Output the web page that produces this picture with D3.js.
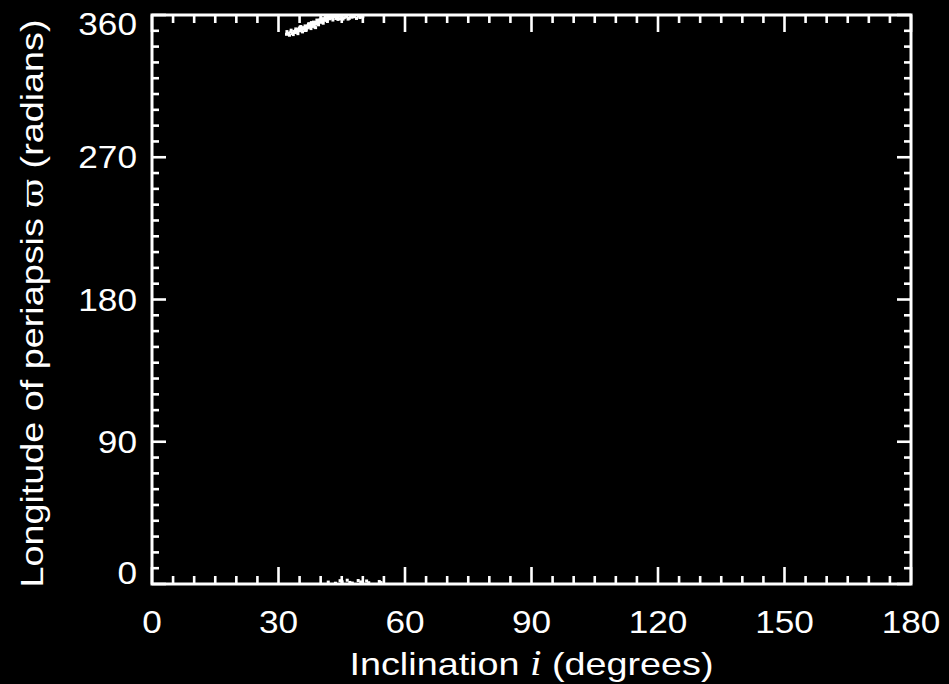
<!DOCTYPE html>
<html>
<head>
<meta charset="utf-8">
<script src="https://cdn.jsdelivr.net/npm/d3@7/dist/d3.min.js"></script>
<style>
  html, body { margin: 0; padding: 0; background: #000; }
  svg { display: block; }
</style>
</head>
<body>
<script>
// Orbital elements of the surviving particles: inclination i (deg) and
// longitude of periapsis varpi (deg), wrapped into [0, 360).
const inclination = [
  32.4, 32.9, 33.3, 33.6, 34.0, 34.3, 34.7, 35.0, 35.2, 35.6, 35.9, 36.2,
  36.5, 36.8, 37.0, 37.3, 37.6, 37.9, 38.1, 38.4, 38.7, 38.9, 39.2, 39.4,
  39.7, 39.9, 40.2, 40.5, 40.7, 41.0, 41.3, 41.5, 41.8, 42.1, 42.4, 42.8,
  43.2, 43.6, 44.0, 44.5, 45.0, 45.6, 46.2, 46.8, 47.4, 49.3, 50.0,
  34.5, 36.0, 37.5, 39.0, 40.0, 41.5, 38.2, 35.4, 33.8, 42.5, 40.9, 39.6,
  36.9, 44.3, 31.9, 38.0, 41.9, 43.0,
  32.0, 32.6, 33.0, 33.5, 34.1, 34.6, 35.1, 35.7, 36.3, 36.6, 37.2, 37.7,
  38.3, 38.6, 39.1, 39.5, 40.1, 40.6, 41.1, 41.6, 42.2, 42.9, 43.4, 44.1,
  44.8, 45.3, 46.0, 46.5, 47.1, 48.0, 48.5, 49.8, 48.9,
  35.3, 36.4, 37.8, 38.8, 40.4, 34.9, 37.1, 39.8,
  41.8, 44.6, 45.1, 46.3, 46.9, 48.9, 49.5, 50.9, 51.4, 53.9, 54.3, 47.5, 43.5
];
const periapsis = [
  348.5, 349.2, 348.3, 349.6, 350.1, 349.0, 350.8, 350.0, 351.4, 350.6, 352.0, 351.2,
  352.6, 351.8, 353.3, 352.2, 354.0, 353.0, 354.6, 353.6, 355.3, 354.2, 356.0, 354.9,
  356.5, 355.4, 357.1, 356.0, 357.7, 356.6, 358.2, 357.0, 358.8, 357.6, 359.2, 358.0,
  359.0, 357.8, 358.6, 357.6, 358.9, 358.3, 358.8, 357.9, 358.6, 358.4, 359.0,
  349.6, 351.5, 353.2, 355.0, 356.3, 357.8, 353.9, 350.9, 348.9, 358.4, 357.3, 355.8,
  352.9, 359.2, 347.8, 352.8, 358.5, 359.4,
  349.5, 347.2, 350.4, 347.6, 351.2, 348.2, 352.3, 349.3, 353.1, 350.4, 354.5, 351.4,
  355.5, 352.4, 356.8, 353.8, 357.9, 354.8, 358.7, 355.9, 359.6, 356.8, 359.5, 357.2,
  359.4, 357.4, 359.3, 357.4, 359.2, 358.9, 357.8, 358.7, 359.3,
  352.7, 350.2, 355.2, 352.0, 355.5, 351.6, 354.1, 357.0,
  1.2, 2.1, 1.4, 2.4, 1.0, 2.2, 1.3, 1.9, 0.8, 1.6, 0.9, 0.6, 0.5
];

const xMajorTicks = [0, 30, 60, 90, 120, 150, 180];
const yMajorTicks = [0, 90, 180, 270, 360];
const xMinorStep = 5;
const yMinorStep = 10;

const W = 949, H = 684;
const plotL = 152, plotR = 911, plotT = 15, plotB = 584;

const svg = d3.select("body").append("svg")
  .attr("width", W).attr("height", H)
  .style("background", "#000");

const x = d3.scaleLinear().domain([0, 180]).range([plotL, plotR]);
const y = d3.scaleLinear().domain([0, 360]).range([plotB, plotT]);

const white = "#ffffff";
const font = "'Liberation Sans', Arial, Helvetica, sans-serif";
const fontSize = 32;
const digitStretch = 1.1;   // wide plotting font
const titleStretch = 1.18;

// Points
const pts = inclination.map((v, k) => ({ i: v, w: periapsis[k] }));
svg.append("g").selectAll("rect").data(pts).join("rect")
  .attr("x", d => x(d.i) - 1.5)
  .attr("y", d => y(d.w) - 1.5)
  .attr("width", 3).attr("height", 3)
  .attr("fill", white);

// Tick marks on all four sides, pointing inward
const xMinor = d3.range(0, 180 + 0.001, xMinorStep).filter(v => !xMajorTicks.includes(v));
const yMinor = d3.range(0, 360 + 0.001, yMinorStep).filter(v => !yMajorTicks.includes(v));
const tickG = svg.append("g").attr("stroke", white).attr("stroke-width", 2.6);
const xMajLen = 17, xMinLen = 8, yMajLen = 14, yMinLen = 7;

function xTicks(vals, len) {
  tickG.append("g").selectAll("line").data(vals).join("line")
    .attr("x1", d => x(d)).attr("x2", d => x(d))
    .attr("y1", plotB).attr("y2", plotB - len);
  tickG.append("g").selectAll("line").data(vals).join("line")
    .attr("x1", d => x(d)).attr("x2", d => x(d))
    .attr("y1", plotT).attr("y2", plotT + len);
}
function yTicks(vals, len) {
  tickG.append("g").selectAll("line").data(vals).join("line")
    .attr("y1", d => y(d)).attr("y2", d => y(d))
    .attr("x1", plotL).attr("x2", plotL + len);
  tickG.append("g").selectAll("line").data(vals).join("line")
    .attr("y1", d => y(d)).attr("y2", d => y(d))
    .attr("x1", plotR).attr("x2", plotR - len);
}
xTicks(xMajorTicks, xMajLen);
xTicks(xMinor, xMinLen);
yTicks(yMajorTicks, yMajLen);
yTicks(yMinor, yMinLen);

// Frame
svg.append("rect")
  .attr("x", plotL).attr("y", plotT)
  .attr("width", plotR - plotL).attr("height", plotB - plotT)
  .attr("fill", "none").attr("stroke", white).attr("stroke-width", 3);

function styled(sel) {
  return sel.attr("fill", white).attr("font-family", font).attr("font-size", fontSize);
}

// Tick labels
svg.append("g").selectAll("g").data(xMajorTicks).join("g")
  .attr("transform", d => `translate(${x(d)}, 633) scale(${digitStretch}, 1)`)
  .append("text")
  .attr("text-anchor", "middle")
  .call(styled)
  .text(d => d);

// y labels are kept inside the plot's vertical extent
const half = 11;
svg.append("g").selectAll("g").data(yMajorTicks).join("g")
  .attr("transform", d => `translate(137, ${Math.min(Math.max(y(d), plotT + 9), plotB - 11) + half}) scale(${digitStretch}, 1)`)
  .append("text")
  .attr("text-anchor", "end")
  .call(styled)
  .text(d => d);

// Axis titles
const xt = svg.append("g")
  .attr("transform", `translate(${(plotL + plotR) / 2}, 675) scale(${titleStretch}, 1)`)
  .append("text")
  .attr("text-anchor", "middle")
  .call(styled);
xt.append("tspan").text("Inclination ");
xt.append("tspan").attr("font-family", "'Liberation Serif', 'Times New Roman', serif")
  .attr("font-style", "italic").attr("font-size", 35).text("i");
xt.append("tspan").text(" (degrees)");

const yt = svg.append("g")
  .attr("transform", `translate(43, ${(plotT + plotB) / 2 + 4}) rotate(-90) scale(${titleStretch}, 1)`)
  .append("text")
  .attr("text-anchor", "middle")
  .call(styled);
yt.append("tspan").text("Longitude of periapsis ");
yt.append("tspan").attr("font-family", "'DejaVu Serif', serif").attr("font-size", 30).text("\u03D6");
yt.append("tspan").text(" (radians)");
</script>
</body>
</html>
